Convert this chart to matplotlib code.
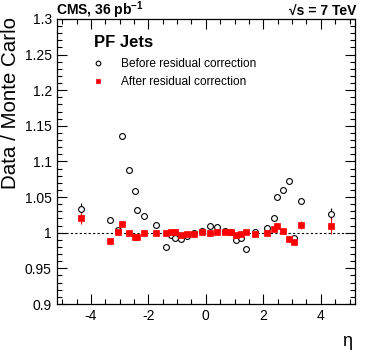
import matplotlib
matplotlib.use("Agg")
import matplotlib.pyplot as plt
from matplotlib.ticker import MultipleLocator, FuncFormatter

plt.rcParams['font.family'] = ['Liberation Sans', 'DejaVu Sans']
plt.rcParams['mathtext.fontset'] = 'custom'
plt.rcParams['mathtext.rm'] = 'Liberation Sans'
plt.rcParams['mathtext.bf'] = 'Liberation Sans:bold'
plt.rcParams['axes.unicode_minus'] = False

# data
eta = [-4.35, -3.32, -3.06, -2.92, -2.69, -2.46, -2.38, -2.14, -1.72, -1.40,
       -1.23, -1.06, -0.87, -0.66, -0.40, -0.14,
       0.13, 0.39, 0.65, 0.87, 1.04, 1.22, 1.39, 1.70, 2.13, 2.37,
       2.46, 2.68, 2.91, 3.06, 3.31, 4.35]
before = [1.033, 1.0175, 1.004, 1.136, 1.088, 1.058, 1.032, 1.023, 1.0105, 0.9796,
          0.997, 0.992, 0.9917, 0.995, 0.9997, 1.003,
          1.0099, 1.0077, 1.0025, 1.0006, 0.9894, 0.9926, 0.9767, 1.0006, 1.006, 1.021,
          1.050, 1.060, 1.0726, 0.993, 1.044, 1.0263]
before_err = [0.009, 0.002, 0.002, 0.002, 0.002, 0.002, 0.002, 0.002, 0.001, 0.001,
              0.001, 0.001, 0.001, 0.001, 0.001, 0.001,
              0.001, 0.001, 0.001, 0.001, 0.001, 0.001, 0.001, 0.001, 0.002, 0.002,
              0.002, 0.002, 0.002, 0.003, 0.003, 0.009]
after = [1.0207, 0.988, 1.0006, 1.012, 0.999, 0.9945, 0.9945, 1.0, 1.0, 1.0,
         1.0015, 1.0015, 0.9964, 0.9987, 0.9987, 1.0006,
         0.9997, 1.0006, 1.001, 1.0015, 0.9964, 0.9978, 1.0006, 0.998, 1.0, 1.005,
         1.009, 1.003, 0.9908, 0.9866, 1.011, 1.0099]
after_err = [0.009, 0.002, 0.003, 0.004, 0.002, 0.002, 0.002, 0.001, 0.001, 0.001,
             0.001, 0.001, 0.001, 0.001, 0.001, 0.001,
             0.001, 0.001, 0.001, 0.001, 0.001, 0.001, 0.001, 0.001, 0.001, 0.002,
             0.002, 0.002, 0.003, 0.003, 0.006, 0.011]

fig = plt.figure(figsize=(3.74, 3.59), dpi=100)
ax = fig.add_axes([0.1516, 0.1532, 0.7976, 0.794])
xmin, xmax = -5.191, 5.191
ax.set_xlim(xmin, xmax)
ax.set_ylim(0.9, 1.3)

ax.plot([xmin, xmax], [1, 1], ls=(0, (2, 2)), color='black', lw=0.8, zorder=1)

ax.errorbar(eta, before, yerr=before_err, fmt='none', ecolor='black',
            elinewidth=0.8, capsize=0, zorder=2)
ax.errorbar(eta, after, yerr=after_err, fmt='none', ecolor='red',
            elinewidth=0.8, capsize=0, zorder=2)
ax.plot(eta, before, 'o', mfc='white', mec='black', ms=4.2, mew=0.8, zorder=3,
        label='Before residual correction')
ax.plot(eta, after, 's', mfc='red', mec='red', ms=4.0, mew=0.5, zorder=4,
        label='After residual correction')

ax.xaxis.set_major_locator(MultipleLocator(2))
ax.xaxis.set_minor_locator(MultipleLocator(0.5))
ax.yaxis.set_major_locator(MultipleLocator(0.05))
ax.yaxis.set_minor_locator(MultipleLocator(0.01))
ax.yaxis.set_major_formatter(FuncFormatter(lambda v, p: ('%.2f' % v).rstrip('0').rstrip('.')))
ax.tick_params(which='both', direction='in', top=True, right=True, labelsize=10, width=0.8)
ax.tick_params(which='major', length=7)
ax.tick_params(which='minor', length=3.5)
ax.tick_params(axis='x', pad=3.5)
for s in ax.spines.values():
    s.set_linewidth(0.9)

fig.text(11 / 374, 1 - 17 / 359, 'Data / Monte Carlo', fontsize=14.8, rotation=90,
         ha='center', va='top')
fig.text(347 / 374, 1 - 341 / 359, 'η', fontsize=13, ha='center', va='center')

fig.text(56.5 / 374, 1 - 15 / 359, r'CMS, 36 pb$^{\mathbf{-1}}$', fontsize=10, fontweight='bold',
         ha='left', va='baseline')
fig.text(356 / 374, 1 - 15 / 359, '√s = 7 TeV', fontsize=10, fontweight='bold',
         ha='right', va='baseline')

ax.text(0.126, 0.916, 'PF Jets', transform=ax.transAxes, fontsize=12, fontweight='bold',
        ha='left', va='center')
leg = ax.legend(loc='upper left', bbox_to_anchor=(0.1173, 0.862), frameon=False,
                fontsize=8.6, handlelength=1.0, handletextpad=1.46, labelspacing=0.47,
                borderaxespad=0, borderpad=0, markerscale=0.8)

fig.savefig('out.png', dpi=100)
